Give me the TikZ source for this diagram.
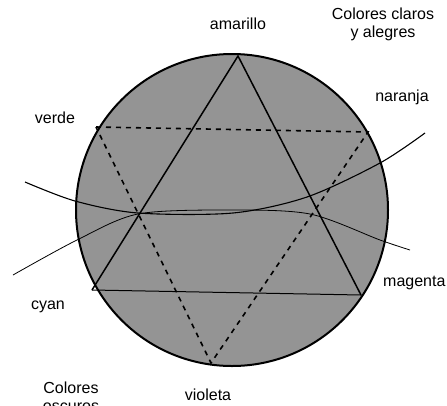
\documentclass[tikz,border=0pt]{standalone}
\usepackage{fontspec}
\setmainfont{Liberation Sans}
\usepackage{tikz}
\usetikzlibrary{arrows}
\tikzstyle{colorname} = [font=\fontsize{16}{18}\selectfont, inner sep=0pt]
\tikzstyle{side} = [line width=1.5pt]
\tikzstyle{dside} = [line width=1.6pt, dash pattern=on 5pt off 5pt]
\tikzstyle{ray} = [line width=1.1pt]

\begin{document}
\begin{tikzpicture}[x=1pt, y=-1pt]
\useasboundingbox (0,0) rectangle (447,405);

\node (wheel) [circle, draw, line width=2pt, fill=black!42, minimum size=312pt, inner sep=0pt] at (232,210) {};

\coordinate (am) at (238,56);
\coordinate (ve) at (96,127);
\coordinate (na) at (368,132);
\coordinate (cy) at (92,290);
\coordinate (mg) at (361,295);
\coordinate (vi) at (211,363);

% light and dark triangles
\draw[side] (cy) -- (am) -- (mg);
\draw[line width=1pt] (cy) -- (mg);
\draw[dside] (ve) -- (na) -- (vi) -- cycle;

% the two curves
\draw[ray] plot[smooth] coordinates {(25,182) (75,201) (138,213) (233,213) (307,197) (380,163) (425,133)};
\draw[line width=0.8pt] plot[smooth] coordinates {(13,275) (77,240) (138,214) (230,210) (310,214) (380,240) (410,250)};

\node (amarillo) [colorname] at (238,24) {amarillo};
\node (claros)   [colorname, align=center] at (383,24) {Colores claros\\y alegres};
\node (naranja)  [colorname] at (402,97) {naranja};
\node (verde)    [colorname] at (55,118) {verde};
\node (cyan)     [colorname] at (48,307) {cyan};
\node (magenta)  [colorname, anchor=west] at (383,283) {magenta};
\node (violeta)  [colorname] at (208,395) {violeta};
\node (oscuros)  [colorname, align=center, anchor=north] at (71,382) {Colores\\oscuros};

\end{tikzpicture}
\end{document}
